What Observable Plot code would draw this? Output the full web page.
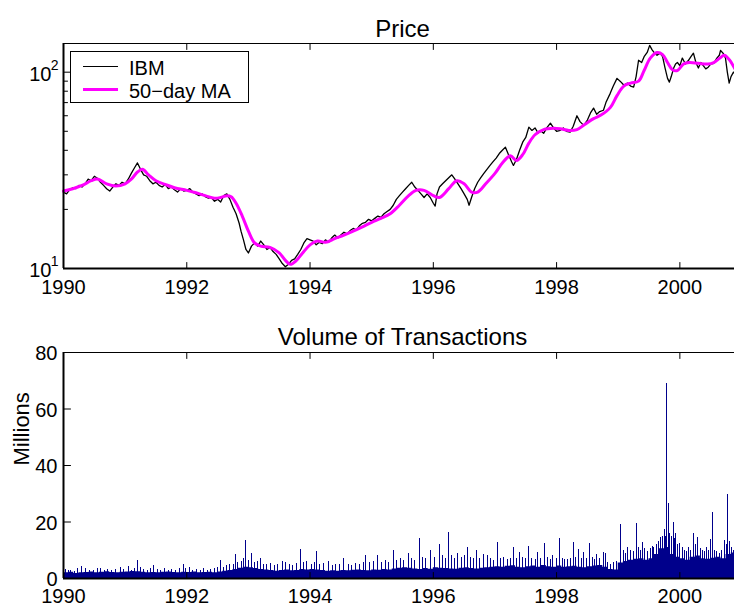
<!DOCTYPE html>
<html><head><meta charset="utf-8">
<script src="https://cdn.jsdelivr.net/npm/d3@7"></script>
<script src="https://cdn.jsdelivr.net/npm/@observablehq/plot@0.6"></script>
<style>
html,body{margin:0;padding:0;background:#fff;overflow:hidden}
#wrap{position:relative;width:734px;height:610px;font-family:"Liberation Sans",Arial,Helvetica,sans-serif}
#wrap svg{display:block}
#legend{position:absolute;left:70px;top:51px;width:179px;height:52px;border:1px solid #000;background:#fff;box-sizing:border-box}
#legend .ln{position:absolute;left:12px;width:35px}
#legend .tx{position:absolute;left:58px;font-size:20px;line-height:20px;color:#000;white-space:nowrap}
</style>
</head><body>
<div id="wrap">
  <div id="top"></div>
  <div id="bottom"></div>
  <div id="legend">
    <div class="ln" style="top:14px;height:1px;background:#000"></div>
    <div class="tx" style="top:6px">IBM</div>
    <div class="ln" style="top:36px;height:3px;background:#ff00ff"></div>
    <div class="tx" style="top:29px">50−day MA</div>
  </div>
</div>
<script>
// ---- Data ----
const xTickYears = [1990, 1992, 1994, 1996, 1998, 2000];
const priceMajorTicks = [10, 100];
const priceMinorTicks = [20, 30, 40, 50, 60, 70, 80, 90];
const volumeTicks = [0, 20, 40, 60, 80];

const ibmYears = [1990.00,1990.05,1990.10,1990.15,1990.20,1990.25,1990.30,1990.35,1990.40,1990.45,1990.50,1990.55,1990.60,1990.65,1990.70,1990.75,1990.80,1990.85,1990.90,1990.95,
1991.00,1991.05,1991.10,1991.15,1991.20,1991.25,1991.30,1991.35,1991.40,1991.45,1991.50,1991.55,1991.60,1991.65,1991.70,1991.75,1991.80,1991.85,1991.90,1991.95,
1992.00,1992.05,1992.10,1992.15,1992.20,1992.25,1992.30,1992.35,1992.40,1992.45,1992.50,1992.55,1992.60,1992.65,1992.70,1992.75,1992.80,1992.85,1992.88,1992.92,1992.96,
1993.00,1993.05,1993.10,1993.15,1993.20,1993.25,1993.30,1993.35,1993.40,1993.45,1993.50,1993.55,1993.60,1993.65,1993.70,1993.75,1993.80,1993.85,1993.90,1993.95,
1994.00,1994.05,1994.10,1994.15,1994.20,1994.25,1994.30,1994.35,1994.40,1994.45,1994.50,1994.55,1994.60,1994.65,1994.70,1994.75,1994.80,1994.85,1994.90,1994.95,
1995.00,1995.05,1995.10,1995.15,1995.20,1995.25,1995.30,1995.35,1995.40,1995.45,1995.50,1995.55,1995.60,1995.65,1995.70,1995.75,1995.80,1995.85,1995.90,1995.95,
1996.00,1996.03,1996.06,1996.10,1996.15,1996.20,1996.25,1996.30,1996.35,1996.40,1996.45,1996.50,1996.55,1996.58,1996.62,1996.67,1996.72,1996.77,1996.82,1996.87,1996.92,1996.97,
1997.02,1997.07,1997.12,1997.17,1997.22,1997.27,1997.30,1997.35,1997.40,1997.45,1997.50,1997.55,1997.60,1997.65,1997.70,1997.75,1997.79,1997.84,1997.90,1997.95,
1998.00,1998.06,1998.11,1998.16,1998.22,1998.27,1998.33,1998.38,1998.44,1998.50,1998.55,1998.60,1998.65,1998.70,1998.76,1998.80,1998.87,1998.92,1998.98,
1999.03,1999.09,1999.15,1999.20,1999.25,1999.29,1999.33,1999.38,1999.42,1999.47,1999.51,1999.55,1999.59,1999.63,1999.68,1999.72,1999.76,1999.80,1999.83,1999.86,1999.90,1999.93,1999.96,
2000.00,2000.04,2000.09,2000.14,2000.18,2000.22,2000.26,2000.30,2000.34,2000.38,2000.42,2000.46,2000.50,2000.55,2000.60,2000.64,2000.66,2000.70,2000.74,2000.77,2000.80,2000.83,2000.87,2000.90];
const ibmPrices = [24.5,24.0,25.2,25.8,25.5,26.5,26.0,27.0,28.5,28.0,29.5,28.8,27.5,26.5,25.5,24.8,26.0,27.0,26.5,27.5,
27.0,28.5,30.5,32.5,34.5,32.0,30.0,29.5,28.0,27.0,27.5,26.5,26.0,26.8,25.5,26.0,25.2,24.5,25.5,24.8,
25.0,25.5,24.5,24.0,23.5,24.0,23.2,22.8,23.0,22.0,22.5,21.8,23.5,24.0,22.5,20.5,19.0,17.0,15.5,14.0,12.5,
12.0,13.0,13.5,13.0,13.8,13.2,12.5,12.8,12.2,11.8,11.2,10.6,10.2,10.5,11.0,11.2,11.8,12.5,13.5,14.2,
14.0,13.8,13.2,13.6,13.4,14.0,13.6,14.3,14.8,14.3,14.8,15.3,15.0,15.6,16.0,15.7,16.5,17.0,17.2,17.8,
17.5,18.0,18.5,18.2,19.0,19.5,20.0,21.0,22.5,23.5,24.5,25.5,26.5,27.5,26.0,25.0,24.0,23.0,24.0,23.0,
21.5,20.8,24.0,26.0,27.0,28.0,29.0,30.0,28.5,27.0,25.5,24.0,22.5,21.0,23.0,25.5,27.5,29.0,30.5,32.0,33.5,35.0,
36.5,38.5,40.0,41.5,38.0,35.0,33.5,36.0,40.0,44.0,46.5,52.5,50.5,52.0,49.0,50.0,48.8,52.0,55.0,52.0,
50.0,50.6,52.0,50.0,49.5,53.0,60.0,56.0,53.6,57.0,62.0,65.6,61.0,63.0,64.0,70.0,78.0,85.0,93.0,
90.0,86.0,88.0,85.0,84.0,95.0,115.0,112.0,120.0,126.0,137.0,130.0,125.0,122.0,125.0,120.0,105.0,93.0,89.0,95.0,105.0,110.0,112.0,
108.0,118.0,110.0,115.0,120.0,125.0,112.0,105.0,112.0,108.0,104.0,106.0,110.0,111.0,118.0,122.0,129.0,125.0,118.0,100.0,88.0,95.0,100.0,98.0];

const maYears = [1990.00,1990.15,1990.30,1990.45,1990.55,1990.70,1990.85,1991.00,1991.10,1991.20,1991.28,1991.38,1991.50,1991.65,1991.80,
1992.00,1992.15,1992.30,1992.45,1992.55,1992.65,1992.72,1992.80,1992.90,1993.00,1993.10,1993.20,1993.35,1993.50,1993.60,1993.68,1993.78,1993.88,
1994.00,1994.12,1994.25,1994.40,1994.55,1994.70,1994.85,1995.00,1995.15,1995.30,1995.45,1995.60,1995.72,1995.85,
1996.00,1996.10,1996.25,1996.38,1996.50,1996.62,1996.72,1996.85,1997.00,1997.12,1997.25,1997.35,1997.45,1997.55,1997.65,1997.79,1997.95,
1998.06,1998.20,1998.33,1998.45,1998.60,1998.72,1998.87,1998.98,1999.09,1999.20,1999.33,1999.42,1999.52,1999.63,1999.72,1999.80,1999.88,1999.96,
2000.06,2000.15,2000.30,2000.45,2000.55,2000.65,2000.72,2000.80,2000.90];
const maPrices = [24.8,25.5,26.5,28.0,28.6,27.0,26.3,27.0,28.5,31.0,32.0,30.0,28.0,26.8,25.8,
25.0,24.3,23.5,22.8,23.0,23.5,23.2,21.5,18.5,15.5,13.5,13.0,12.8,12.0,11.0,10.5,11.0,12.0,
13.2,13.8,13.6,14.2,14.8,15.5,16.3,17.2,18.0,19.0,21.0,23.5,25.0,25.0,
23.5,23.0,25.5,28.0,27.0,24.5,24.5,27.0,30.5,34.5,37.5,35.5,38.0,43.5,48.0,51.0,51.8,
51.5,50.5,51.0,54.0,58.0,60.5,66.0,76.0,85.0,88.0,90.0,102.0,118.0,126.0,123.0,112.0,103.0,102.0,
110.0,112.0,111.0,110.0,112.0,118.0,122.0,116.0,103.0];

// typical daily volume level (millions), one value per month from Jan 1990
const volMonthlyBase = [
2.0,2.2,1.8,2.0,2.1,2.3,2.0,2.2,2.4,2.1,2.0,2.2,
2.3,2.5,2.4,2.2,2.0,2.1,2.0,2.2,2.3,2.1,2.0,2.2,
2.1,2.3,2.0,2.1,2.2,2.0,2.3,2.6,2.8,3.2,3.6,4.0,
3.8,3.5,3.2,3.0,2.8,2.6,2.8,3.0,2.7,2.8,3.2,3.0,
3.2,3.0,2.8,2.6,2.7,2.6,2.8,2.7,2.9,3.0,2.8,2.7,
3.0,2.9,3.2,3.0,3.4,3.6,3.8,3.6,3.4,3.2,3.5,3.3,
3.8,3.6,3.5,3.4,3.3,3.6,3.8,3.5,3.4,3.6,3.8,4.0,
4.2,4.0,4.3,4.5,4.0,3.8,4.2,4.4,4.0,4.6,4.2,4.0,
4.4,4.0,4.2,4.3,4.0,3.8,4.2,4.4,4.6,4.0,3.2,3.0,
5.5,6.0,6.5,6.8,7.0,6.5,7.0,8.5,10.5,11.0,8.5,7.5,
7.0,6.5,7.5,8.0,7.0,6.8,7.2,7.5,7.0,8.5,9.0];

// individual high-volume days (year, millions)
const spikeYears = [1990.03,1990.08,1990.12,1990.18,1990.23,1990.30,1990.35,1990.42,1990.48,1990.55,1990.60,1990.66,1990.72,1990.78,1990.85,1990.92,1990.97,
1991.05,1991.10,1991.15,1991.20,1991.25,1991.30,1991.36,1991.41,1991.46,1991.52,1991.58,1991.64,1991.70,1991.76,1991.82,1991.88,1991.94,1991.98,
1992.04,1992.10,1992.16,1992.22,1992.27,1992.33,1992.39,1992.45,1992.50,1992.54,1992.60,1992.65,1992.70,1992.75,1992.79,1992.83,1992.88,1992.92,1992.96,
1993.00,1993.05,1993.10,1993.15,1993.20,1993.25,1993.30,1993.36,1993.42,1993.48,1993.55,1993.60,1993.66,1993.72,1993.78,1993.85,1993.90,1993.95,
1994.02,1994.08,1994.10,1994.16,1994.22,1994.30,1994.36,1994.42,1994.48,1994.55,1994.62,1994.68,1994.74,1994.80,1994.86,1994.90,1994.96,
1995.03,1995.10,1995.16,1995.22,1995.28,1995.35,1995.40,1995.46,1995.52,1995.60,1995.65,1995.70,1995.78,1995.83,1995.88,1995.95,
1996.02,1996.10,1996.15,1996.20,1996.25,1996.30,1996.35,1996.40,1996.45,1996.50,1996.55,1996.60,1996.65,1996.70,1996.75,1996.81,1996.88,1996.93,1996.98,
1997.04,1997.09,1997.14,1997.20,1997.25,1997.30,1997.35,1997.40,1997.45,1997.50,1997.54,1997.60,1997.65,1997.69,1997.74,1997.80,1997.85,1997.90,1997.94,
1998.00,1998.04,1998.10,1998.13,1998.17,1998.22,1998.28,1998.31,1998.35,1998.40,1998.44,1998.48,1998.53,1998.58,1998.62,1998.65,1998.70,1998.76,1998.79,1998.83,1998.88,1998.93,1998.98,
1999.04,1999.08,1999.12,1999.15,1999.20,1999.25,1999.29,1999.33,1999.36,1999.39,1999.43,1999.47,1999.52,1999.55,1999.58,1999.62,1999.66,1999.69,1999.72,1999.75,1999.77,1999.79,1999.81,1999.83,1999.86,1999.89,1999.91,1999.93,1999.96,
2000.00,2000.04,2000.08,2000.11,2000.14,2000.18,2000.22,2000.25,2000.29,2000.33,2000.36,2000.40,2000.43,2000.47,2000.50,2000.53,2000.57,2000.60,2000.64,2000.68,2000.72,2000.75,2000.77,2000.80,2000.84,2000.87];
const spikeVolumes = [3.2,2.8,3.0,2.6,3.4,4.4,3.5,3.0,2.8,3.6,3.5,2.9,3.1,3.0,3.3,4.0,3.2,
4.2,3.0,3.4,6.5,3.8,3.2,3.0,3.4,4.5,3.1,2.9,3.5,2.8,3.2,3.0,3.4,5.0,3.6,
4.0,3.0,3.3,2.9,3.5,3.0,3.2,3.4,3.8,6.2,4.0,4.5,5.0,4.8,8.6,5.5,6.0,7.0,13.6,
6.5,9.0,5.5,6.0,7.0,5.0,4.8,5.2,4.6,5.0,6.0,5.5,4.8,4.5,5.2,10.4,5.5,6.0,
5.0,5.5,9.7,4.8,5.2,6.0,4.6,5.0,4.8,7.0,5.0,4.6,5.4,5.0,5.8,8.0,5.5,
6.0,8.0,5.5,6.2,5.8,10.0,6.5,7.0,6.2,9.0,7.0,6.5,14.0,7.5,7.0,10.0,
7.5,12.0,8.0,7.0,16.4,8.0,7.0,9.0,7.5,8.0,11.0,7.5,7.0,10.0,7.2,8.6,8.0,7.0,6.5,
12.6,7.0,7.5,6.8,7.2,10.9,7.0,9.2,7.5,7.0,11.5,7.2,6.8,9.2,7.0,12.3,7.5,6.8,8.0,
7.0,14.0,7.2,6.8,6.6,7.0,12.6,7.5,10.3,7.0,9.2,7.0,12.5,7.4,6.8,8.4,7.0,9.2,9.0,5.5,5.0,5.5,6.0,
19.0,10.0,9.0,11.0,10.0,9.5,19.5,11.0,10.0,12.6,10.5,9.5,10.5,11.5,11.0,12.0,13.0,14.6,15.0,17.4,15.0,69.0,26.7,16.0,15.0,20.0,14.0,16.0,12.0,
12.4,11.0,10.0,9.5,11.0,10.0,16.0,12.0,14.6,10.5,10.0,9.5,11.0,10.0,13.9,23.2,10.0,9.5,9.0,10.0,13.6,12.0,29.8,13.0,11.0,10.0];

// ---- Build tables ----
const ibm = ibmYears.map((t, i) => ({t, v: ibmPrices[i]}));
const ma = maYears.map((t, i) => ({t, v: maPrices[i]}));
const X_END = 2001;
const base = volMonthlyBase.map((v, i) => ({t: 1990 + i / 12, v}));
base.push({t: X_END, v: volMonthlyBase[volMonthlyBase.length - 1]});
const spikes = spikeYears.map((t, i) => ({t, v: spikeVolumes[i]}));

const FONT = '"Liberation Sans", Arial, Helvetica, sans-serif';
const tickShape = {draw(ctx, l) { ctx.moveTo(0, 0); ctx.lineTo(0, -l); }};
const tk = (data, opts) => Plot.vector(data, {anchor: "start", shape: tickShape, stroke: "#000", strokeWidth: 1, ...opts});
const navy = "#00008b";

const xLabels = (pad) => Plot.axisX({ticks: xTickYears, tickSize: 0, tickPadding: pad, tickFormat: d => String(d), fontSize: 20, label: null});

const topPlot = Plot.plot({
  width: 734, height: 305,
  marginLeft: 63, marginRight: -7, marginTop: 43, marginBottom: 37,
  x: {domain: [1990, X_END]},
  y: {type: "log", domain: [10, 140]},
  style: {fontFamily: FONT, color: "#000", background: "transparent", overflow: "hidden"},
  marks: [
    Plot.line(ibm, {x: "t", y: "v", stroke: "#000", strokeWidth: 1.3}),
    Plot.line(ma, {x: "t", y: "v", stroke: "#ff00ff", strokeWidth: 3, curve: "catmull-rom"}),
    Plot.ruleY([140], {stroke: "#000", strokeWidth: 1}),
    Plot.ruleY([10], {stroke: "#000", strokeWidth: 2}),
    Plot.ruleX([1990], {stroke: "#000", strokeWidth: 2}),
    tk(xTickYears, {x: d => d, frameAnchor: "bottom", rotate: 0, length: 6}),
    tk(xTickYears, {x: d => d, frameAnchor: "top", rotate: 180, length: 6}),
    tk(priceMajorTicks, {y: d => d, frameAnchor: "left", rotate: 90, length: 7}),
    tk(priceMinorTicks, {y: d => d, frameAnchor: "left", rotate: 90, length: 4}),
    tk(priceMajorTicks, {y: d => d, frameAnchor: "right", rotate: -90, length: 7}),
    tk(priceMinorTicks, {y: d => d, frameAnchor: "right", rotate: -90, length: 4}),
    xLabels(11),
    Plot.axisY({ticks: priceMajorTicks, tickSize: 0, tickPadding: 12, tickFormat: () => "10", fontSize: 20, dy: 2, label: null}),
    Plot.axisY({ticks: priceMajorTicks, tickSize: 0, tickPadding: 5, tickFormat: d => String(Math.round(Math.log10(d))), fontSize: 14, dy: -7, label: null}),
    Plot.text(["Price"], {frameAnchor: "top", text: d => d, fontSize: 24, dy: -23.7})
  ]
});

const bottomPlot = Plot.plot({
  width: 734, height: 305,
  marginLeft: 63, marginRight: -7, marginTop: 47, marginBottom: 32,
  x: {domain: [1990, X_END]},
  y: {domain: [0, 80]},
  style: {fontFamily: FONT, color: "#000", background: "transparent", overflow: "hidden"},
  marks: [
    Plot.areaY(base, {x: "t", y: "v", curve: "step-after", fill: navy}),
    Plot.ruleX(spikes, {x: "t", y1: 0, y2: "v", stroke: navy, strokeWidth: 1, shapeRendering: "crispEdges"}),
    Plot.ruleY([80], {stroke: "#000", strokeWidth: 1}),
    Plot.ruleY([0], {stroke: "#000", strokeWidth: 2}),
    Plot.ruleX([1990], {stroke: "#000", strokeWidth: 2}),
    tk(xTickYears, {x: d => d, frameAnchor: "bottom", rotate: 0, length: 6}),
    tk(xTickYears, {x: d => d, frameAnchor: "top", rotate: 180, length: 6}),
    tk(volumeTicks, {y: d => d, frameAnchor: "left", rotate: 90, length: 7}),
    tk(volumeTicks, {y: d => d, frameAnchor: "right", rotate: -90, length: 7}),
    xLabels(10),
    Plot.axisY({ticks: volumeTicks, tickSize: 0, tickPadding: 6, tickFormat: d => String(d), fontSize: 20, dy: 1.5, label: null}),
    Plot.text(["Volume of Transactions"], {frameAnchor: "top", text: d => d, fontSize: 24, dy: -24.7}),
    Plot.text(["Millions"], {frameAnchor: "left", text: d => d, fontSize: 22, rotate: -90, dx: -42})
  ]
});

document.getElementById("top").appendChild(topPlot);
document.getElementById("bottom").appendChild(bottomPlot);
</script>
</body></html>
